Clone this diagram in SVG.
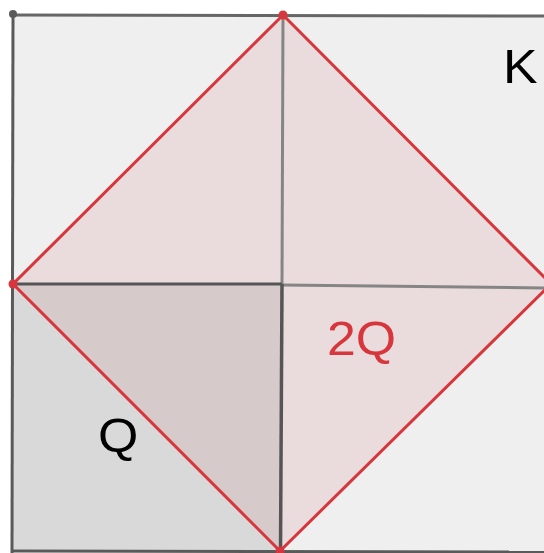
<svg xmlns="http://www.w3.org/2000/svg" width="544" height="553" viewBox="0 0 544 553">
<style>
.lbl{font-family:"Liberation Sans",Arial,sans-serif;font-size:48px}
.edgeK{stroke:#666;stroke-width:3;fill:none;stroke-linecap:round}
.mid{stroke:#858585;stroke-width:3;fill:none}
.red{stroke:#d7363c;stroke-width:3;fill:none;stroke-linejoin:miter}
</style>
<rect width="544" height="553" fill="#ffffff"/>
<g id="square-K">
<polygon points="13,14 550,16 549,553 12,551" fill="#efefef"/>
</g>
<g id="square-Q">
<polygon points="13,284 282,284 281,551 12,551" fill="#d9d9d9"/>
</g>
<g id="diamond-2Q">
<polygon points="283,15 551,284 280,551 13,284" fill="#eadcdc"/>
<polygon points="13,284 282,284 280.5,551" fill="#d7caca"/>
</g>
<g id="connectors">
<line class="mid" x1="283" y1="15" x2="282" y2="284"/>
<line class="mid" x1="282" y1="285" x2="551" y2="288"/>
<line x1="13" y1="284" x2="282" y2="284" stroke="#555" stroke-width="3"/>
<line x1="282" y1="284" x2="280.5" y2="553" stroke="#555" stroke-width="3.5"/>
<line class="edgeK" x1="13" y1="15" x2="550" y2="16"/>
<line x1="13" y1="14" x2="12" y2="553" stroke="#5a5a5a" stroke-width="3"/>
<line x1="12" y1="551" x2="549" y2="552" stroke="#5a5a5a" stroke-width="3"/>
<polygon class="red" points="283,15 551,284 280,551 13,284"/>
</g>
<g id="points">
<circle cx="13" cy="14" r="4" fill="#5a5a5a"/>
<circle cx="283" cy="15" r="4.5" fill="#d7363c"/>
<circle cx="13" cy="284" r="4.5" fill="#d7363c"/>
<circle cx="280" cy="551" r="4.5" fill="#d7363c"/>
</g>
<g id="labels">
<text class="lbl" x="503" y="83" fill="#000" transform="translate(503 83) scale(1.08 1) translate(-503 -83)">K</text>
<text class="lbl" x="327" y="355" fill="#d7363c" transform="translate(327 355) scale(1.08 1) translate(-327 -355)">2Q</text>
<text class="lbl" x="98" y="452" fill="#000" transform="translate(98 452) scale(1.08 1) translate(-98 -452)">Q</text>
</g>
</svg>
